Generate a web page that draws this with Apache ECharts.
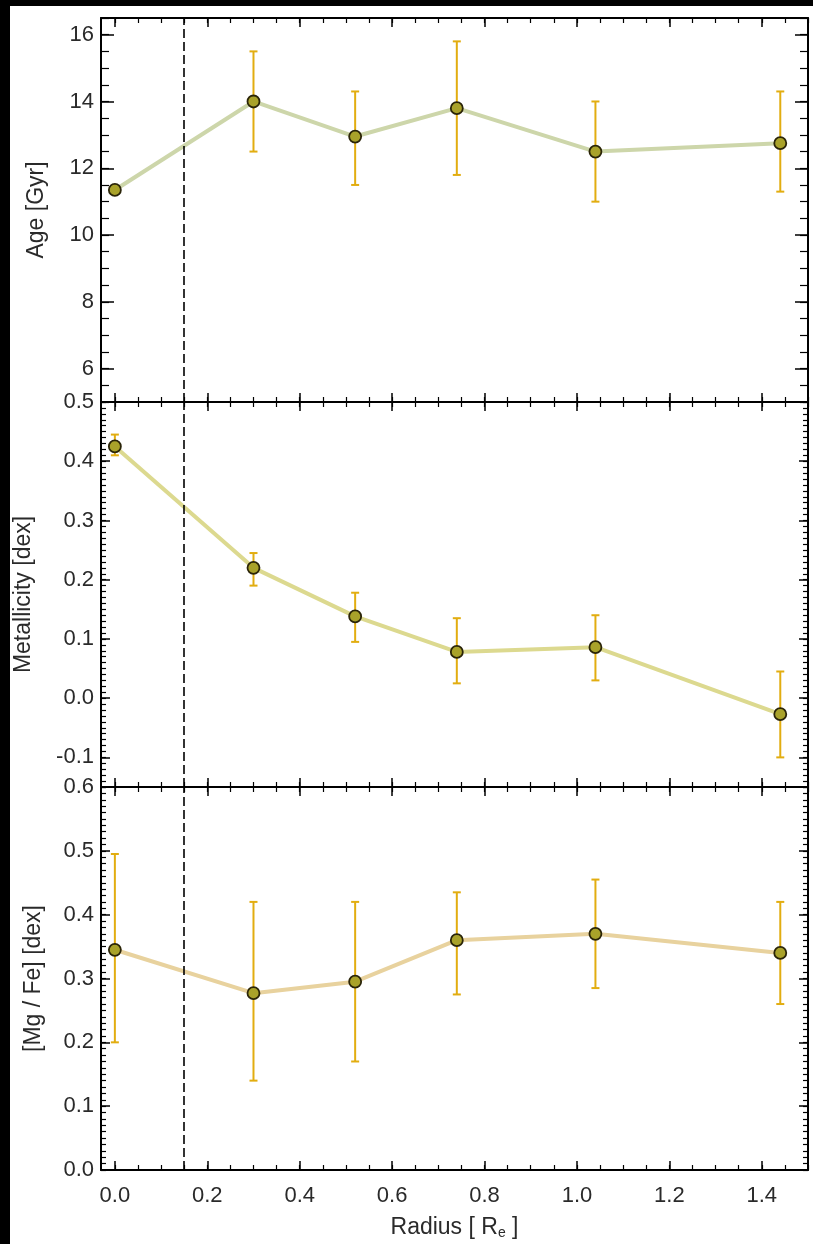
<!DOCTYPE html>
<html>
<head>
<meta charset="utf-8">
<script src="https://cdn.jsdelivr.net/npm/echarts@6/dist/echarts.min.js"></script>
<style>
html,body{margin:0;padding:0;background:#fff;}
#chart{width:813px;height:1244px;}
</style>
</head>
<body>
<div id="chart"></div>
<script>
// ---- data ----
const radius = [0.0, 0.30, 0.52, 0.74, 1.04, 1.44];

const age   = [11.35, 14.0, 12.95, 13.8, 12.5, 12.75];
const ageLo = [null, 12.5, 11.5, 11.8, 11.0, 11.3];
const ageHi = [null, 15.5, 14.3, 15.8, 14.0, 14.3];

const metal   = [0.425, 0.22, 0.138, 0.078, 0.086, -0.027];
const metalLo = [0.41, 0.19, 0.095, 0.025, 0.03, -0.10];
const metalHi = [0.445, 0.245, 0.178, 0.135, 0.14, 0.045];

const mgfe   = [0.345, 0.277, 0.295, 0.36, 0.37, 0.34];
const mgfeLo = [0.20, 0.14, 0.17, 0.275, 0.285, 0.26];
const mgfeHi = [0.495, 0.42, 0.42, 0.435, 0.455, 0.42];

const dashX = 0.15;

// tick labels
const xTicks   = [0.0, 0.2, 0.4, 0.6, 0.8, 1.0, 1.2, 1.4];
const ageTicks = [6, 8, 10, 12, 14, 16];
const metTicks = [-0.1, 0.0, 0.1, 0.2, 0.3, 0.4, 0.5];
const mgTicks  = [0.0, 0.1, 0.2, 0.3, 0.4, 0.5, 0.6];

const yNames = ['Age [Gyr]', 'Metallicity [dex]', '[Mg / Fe] [dex]'];

// ---- helpers ----
function steps(a, b, s) {
  const out = [];
  const n = Math.round((b - a) / s);
  for (let i = 0; i <= n; i++) out.push(Math.round((a + i * s) * 1000) / 1000);
  return out;
}
const xMinor   = steps(0, 1.5, 0.05);
const ageMinor = steps(5, 16.5, 0.5);
const metMinor = steps(-0.15, 0.5, 0.01);
const mgMinor  = steps(0, 0.6, 0.01);

const FONT = 'Liberation Sans, Arial, sans-serif';
const TXT = '#2a2a2a';
const LBL = 22;
const TTL = 23;

const grids = [
  {left: 101, right: 5, top: 18, height: 384},
  {left: 101, right: 5, top: 402, height: 385},
  {left: 101, right: 5, top: 787, height: 383}
];
const nameX = [37, 24, 34];

const xAxes = [];
const yAxes = [];

function addX(g, showLabels) {
  const base = {type: 'value', gridIndex: g, min: -0.03, max: 1.5, splitLine: {show: false}};
  const idx = xAxes.length;
  ['bottom', 'top'].forEach(function (pos) {
    const isMain = pos === 'bottom' && showLabels;
    xAxes.push(Object.assign({}, base, {
      position: pos,
      axisLine: {show: true, onZero: false, lineStyle: {color: '#000', width: 2}},
      axisTick: {show: true, inside: true, length: 9, customValues: xTicks, lineStyle: {color: '#000', width: 1.5}},
      axisLabel: {show: isMain, customValues: xTicks, formatter: function (v) { return v.toFixed(1); },
        color: TXT, fontFamily: FONT, fontSize: LBL, margin: 15},
      name: isMain ? 'Radius [ R{e|e} ]' : '',
      nameLocation: 'middle', nameGap: 45,
      nameTextStyle: {color: TXT, fontFamily: FONT, fontSize: TTL,
        rich: {e: {fontSize: 14, fontFamily: FONT, color: TXT, padding: [11, 0, 0, 0]}}}
    }));
    xAxes.push(Object.assign({}, base, {
      position: pos,
      axisLine: {show: false, onZero: false},
      axisTick: {show: true, inside: true, length: 5, customValues: xMinor, lineStyle: {color: '#000', width: 1.2}},
      axisLabel: {show: false}
    }));
  });
  return idx;
}

function addY(g, min, max, ticks, minor, fmt, majLen, minLen) {
  const base = {type: 'value', gridIndex: g, min: min, max: max, splitLine: {show: false}};
  const idx = yAxes.length;
  ['left', 'right'].forEach(function (pos) {
    const isMain = pos === 'left';
    yAxes.push(Object.assign({}, base, {
      position: pos,
      axisLine: {show: true, onZero: false, lineStyle: {color: '#000', width: 2}},
      axisTick: {show: true, inside: true, length: majLen, customValues: ticks, lineStyle: {color: '#000', width: 1.5}},
      axisLabel: {show: isMain, customValues: ticks, formatter: fmt,
        color: TXT, fontFamily: FONT, fontSize: LBL, margin: 7}
    }));
    yAxes.push(Object.assign({}, base, {
      position: pos,
      axisLine: {show: false, onZero: false},
      axisTick: {show: true, inside: true, length: minLen, customValues: minor, lineStyle: {color: '#000', width: 1.2}},
      axisLabel: {show: false}
    }));
  });
  return idx;
}

const x0 = addX(0, false), x1 = addX(1, false), x2 = addX(2, true);
const y0 = addY(0, 5, 16.5, ageTicks, ageMinor, function (v) { return String(Math.round(v)); }, 13, 8);
const y1 = addY(1, -0.15, 0.5, metTicks, metMinor, function (v) { return v.toFixed(1); }, 9, 5);
const y2 = addY(2, 0, 0.6, mgTicks, mgMinor, function (v) { return v.toFixed(1); }, 9, 5);

function errRender(params, api) {
  const lo = api.value(1), hi = api.value(2);
  if (lo == null || hi == null || isNaN(lo) || isNaN(hi)) return;
  const p1 = api.coord([api.value(0), lo]);
  const p2 = api.coord([api.value(0), hi]);
  const w = 4;
  const st = {stroke: '#e2ad10', lineWidth: 2};
  return {type: 'group', children: [
    {type: 'line', shape: {x1: p1[0], y1: p1[1], x2: p2[0], y2: p2[1]}, style: st},
    {type: 'line', shape: {x1: p1[0] - w, y1: p1[1], x2: p1[0] + w, y2: p1[1]}, style: st},
    {type: 'line', shape: {x1: p2[0] - w, y1: p2[1], x2: p2[0] + w, y2: p2[1]}, style: st}
  ]};
}

function panelSeries(xi, yi, vals, lo, hi, lineColor) {
  const pts = radius.map(function (r, i) { return [r, vals[i]]; });
  const errs = radius.map(function (r, i) { return [r, lo[i], hi[i]]; });
  return [
    {type: 'line', xAxisIndex: xi, yAxisIndex: yi, data: pts, showSymbol: false, symbol: 'none',
      lineStyle: {color: lineColor, width: 4}, z: 2, silent: true,
      markLine: {silent: true, symbol: 'none', label: {show: false},
        lineStyle: {type: [9, 4], color: '#000', width: 1.6},
        data: [{xAxis: dashX}]}},
    {type: 'custom', xAxisIndex: xi, yAxisIndex: yi, data: errs, renderItem: errRender,
      encode: {x: 0, y: [1, 2]}, z: 3, silent: true},
    {type: 'scatter', xAxisIndex: xi, yAxisIndex: yi, data: pts, symbol: 'circle', symbolSize: 12,
      itemStyle: {color: '#a9a22a', borderColor: '#2a2408', borderWidth: 1.8, opacity: 1}, z: 4, silent: true}
  ];
}

const series = [].concat(
  panelSeries(x0, y0, age, ageLo, ageHi, '#cdd6aa'),
  panelSeries(x1, y1, metal, metalLo, metalHi, '#dcd98f'),
  panelSeries(x2, y2, mgfe, mgfeLo, mgfeHi, '#e8d29e')
);

// rotated y-axis titles
const nameGraphics = yNames.map(function (t, i) {
  return {type: 'text', x: nameX[i], y: grids[i].top + grids[i].height / 2, rotation: Math.PI / 2, z: 50,
    style: {text: t, fontSize: TTL, fontFamily: FONT, fill: TXT, align: 'center', verticalAlign: 'middle'}};
});

const chart = echarts.init(document.getElementById('chart'), null, {renderer: 'canvas'});
chart.setOption({
  animation: false,
  backgroundColor: '#fff',
  grid: grids,
  xAxis: xAxes,
  yAxis: yAxes,
  series: series,
  graphic: [
    {type: 'rect', left: 0, top: 0, shape: {width: 813, height: 6}, style: {fill: '#000'}, z: 100},
    {type: 'rect', left: 0, top: 0, shape: {width: 10, height: 1244}, style: {fill: '#000'}, z: 100}
  ].concat(nameGraphics)
});
</script>
</body>
</html>
